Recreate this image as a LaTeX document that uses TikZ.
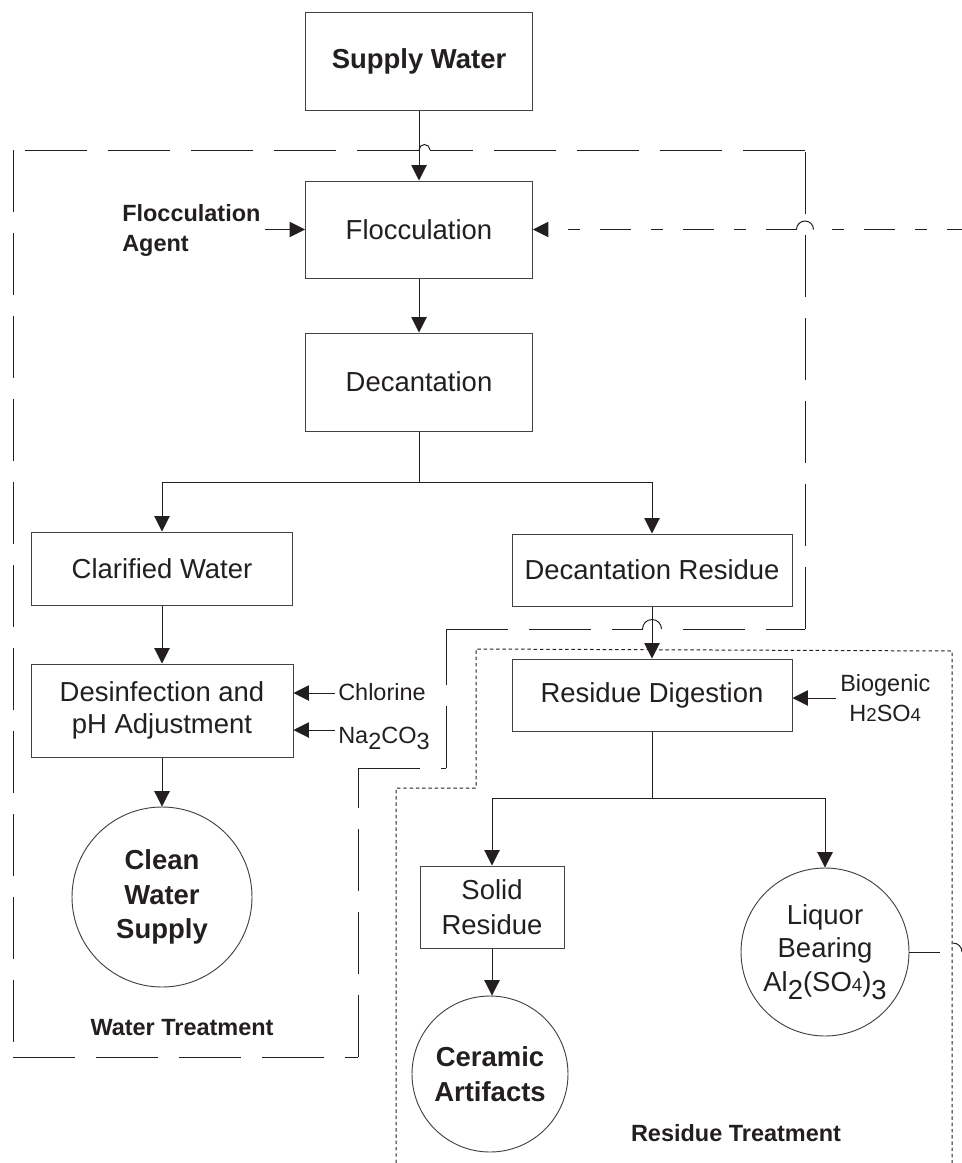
\documentclass[tikz,border=0pt]{standalone}
\usepackage{fontspec}
\setmainfont{Liberation Sans}
\usetikzlibrary{arrows.meta}
\definecolor{ink}{HTML}{231F20}
\newcommand\bigf{\fontsize{20.6}{26}\selectfont}
\newcommand\midf{\fontsize{17.6}{22.5}\selectfont}
\newcommand\lowd[1]{\raisebox{-0.28em}{#1}}
\newcommand\smd[1]{{\fontsize{14}{14}\selectfont #1}}
\begin{document}
\begin{tikzpicture}[x=0.75pt,y=-0.75pt,
  box/.style={draw=ink!85, line width=0.75pt, rectangle, inner sep=0pt, align=center, font=\bigf, text=ink},
  circ/.style={draw=ink!85, line width=0.7pt, circle, inner sep=0pt, align=center, font=\bigf, text=ink},
  arr/.style={draw=ink, line width=0.75pt, -{Triangle[length=11.5pt,width=11.5pt]}},
  ln/.style={draw=ink, line width=0.75pt},
  wtb/.style={draw=ink, line width=0.75pt, dash pattern=on 46.5pt off 15.75pt},
  rtb/.style={draw=ink, line width=0.75pt, dash pattern=on 2.6pt off 2.1pt},
  ddot/.style={draw=ink, line width=0.75pt, dash pattern=on 23.25pt off 15pt on 9pt off 15pt},
  lblm/.style={font=\midf, text=ink, inner sep=0pt},
  lblb/.style={font=\midf\bfseries, text=ink, inner sep=0pt}
]
\useasboundingbox (0,0) rectangle (962,1163);

% nodes
\node[box, font=\bigf\bfseries, minimum width=170.25pt, minimum height=72.75pt] (supply) at (419,61.5) {Supply Water};
\node[box, minimum width=170.25pt, minimum height=72.75pt] (floc) at (419,229.5) {Flocculation};
\node[box, minimum width=170.25pt, minimum height=73.5pt] (decant) at (419,382) {Decantation};
\node[box, minimum width=195.75pt, minimum height=54.75pt] (clar) at (162,568.5) {Clarified Water};
\node[box, minimum width=210pt, minimum height=54pt] (decres) at (652,570) {Decantation Residue};
\node[box, font=\fontsize{20.6}{24}\selectfont, minimum width=196.5pt, minimum height=69.75pt] (desinf) at (162,710.5) {Desinfection and\\pH Adjustment};
\node[box, minimum width=210pt, minimum height=54pt] (resdig) at (652,695) {Residue Digestion};
\node[circ, font=\bigf\bfseries, minimum size=135pt] (clean) at (162,897) {Clean\\Water\\Supply};
\node[box, minimum width=108pt, minimum height=61.5pt] (solid) at (492,907) {Solid\\Residue};
\node[circ, font=\bigf\bfseries, minimum size=117pt] (ceramic) at (490,1074) {Ceramic\\Artifacts};
\node[circ, font=\fontsize{20.6}{25}\selectfont, minimum size=126pt] (liq) at (825,952) {Liquor\\Bearing\\Al\lowd{2}(SO\smd{4})\lowd{3}};

% labels
\node[lblb, anchor=west, align=left] (fagent) at (122,230) {Flocculation\\Agent};
\node[lblm, anchor=base west] (chl) at (338,700) {Chlorine};
\node[lblm, anchor=base west] (na) at (338,743) {Na\lowd{2}CO\lowd{3}};
\node[lblm, anchor=west, align=center] (bio) at (840,698) {Biogenic\\H\smd{2}SO\smd{4}};
\node[lblb] (wt) at (182,1028) {Water Treatment};
\node[lblb] (rt) at (736,1133) {Residue Treatment};

% helper coordinates
\coordinate (split) at (419,482);
\coordinate (split2) at (652,798);
\coordinate (chlA) at (335,693);
\coordinate (naA) at (335,730);
\coordinate (retA) at (940,952);
\coordinate (retB) at (962,952);
\coordinate (retC) at (962,229.5);

% main flow
\draw[arr] (supply.south) -- (floc.north);
\draw[arr] (floc.south) -- (decant.north);
\draw[ln] (decant.south) -- (split);
\draw[arr] (split) -| (clar.north);
\draw[arr] (split) -| (decres.north);
\draw[arr] (clar.south) -- (desinf.north);
\draw[arr] (desinf.south) -- (clean.north);
\draw[arr] (decres.south) -- (resdig.north);
\draw[ln] (resdig.south) -- (split2);
\draw[arr] (split2) -| (solid.north);
\draw[arr] (split2) -| (liq.north);
\draw[arr] (solid.south) -- (solid.south |- ceramic.north);

% side inputs
\draw[arr, shorten <=3pt] (fagent.east |- floc.west) -- (floc.west);
\draw[arr] (chlA) -- (chlA -| desinf.east);
\draw[arr] (naA) -- (naA -| desinf.east);
\draw[arr, shorten <=3pt] (bio.west) -- (bio.west -| resdig.east);

% return line
\draw[ln] (liq.east) -- (retA);
\draw[ln] (953,943) arc[start angle=90,end angle=0,radius=6.75pt] -- (retB);
\draw[ddot, dash phase=12pt] (retC) -- (813.5,229.5);
\draw[ln] (813.5,229.5) arc[start angle=0,end angle=180,radius=6.375pt];
\draw[ddot, arrows={-Triangle[length=11.5pt,width=11.5pt]}] (796.5,229.5) -- (floc.east);

% water treatment boundary
\draw[wtb] (13,150) -- (13,1057);
\draw[wtb] (13,1057) -- (358,1057);
\draw[wtb] (358,1057) -- (358,768);
\draw[wtb] (358,768) -- (446,768);
\draw[wtb] (446,768) -- (446,629);
\draw[wtb] (446,629) -- (642.5,629);
\draw[ln] (642.5,629) arc[start angle=180,end angle=0,radius=7.125pt];
\draw[wtb, dash phase=46.5pt] (661.5,629) -- (805,629);
\draw[wtb] (805,629) -- (805,150);
\draw[wtb] (805,150) -- (430,150);
\draw[ln] (430,150) arc[start angle=0,end angle=180,radius=4.125pt];
\draw[wtb] (419,150) -- (13,150);

% residue treatment boundary
\draw[rtb] (396,1163) -- (396,788) -- (476,788) -- (476,649) -- (952,651) -- (952,1163);
\end{tikzpicture}
\end{document}
